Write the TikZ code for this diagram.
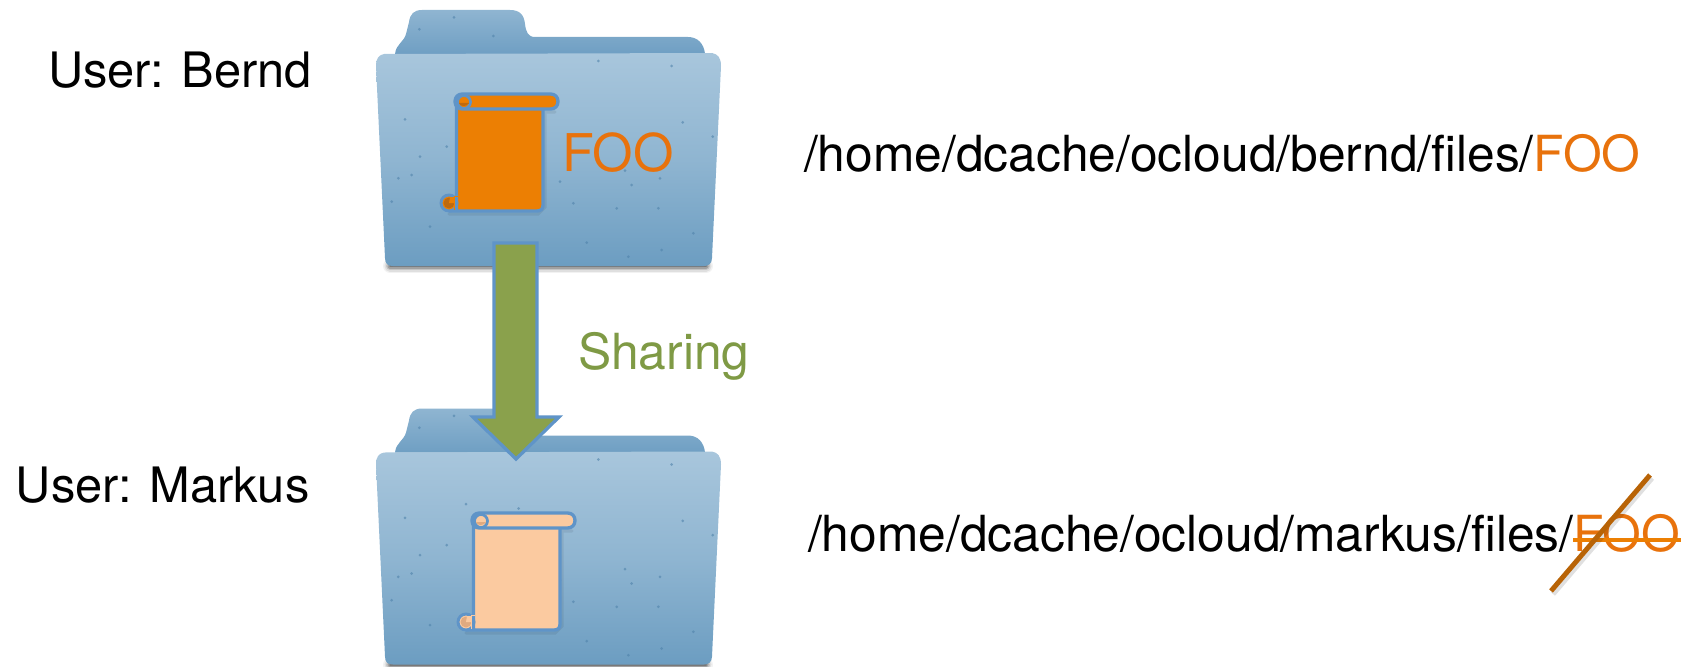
\documentclass[tikz,border=0pt]{standalone}
\usepackage{fontspec}
\setmainfont{TeX Gyre Heros}
\definecolor{fbgl}{HTML}{A8C6DC}
\definecolor{fbgm}{HTML}{8FB5D1}
\definecolor{fbgd}{HTML}{6C9DC1}
\definecolor{tabd}{HTML}{6F9FC3}
\definecolor{speck}{HTML}{4F82AA}
\definecolor{edge}{HTML}{5F94C8}
\definecolor{orng}{HTML}{EC7F03}
\definecolor{orngt}{HTML}{E8720C}
\definecolor{orngl}{HTML}{FBCAA0}
\definecolor{orngc}{HTML}{BE6A10}
\definecolor{orngcl}{HTML}{E0AA80}
\definecolor{grn}{HTML}{8AA14C}
\definecolor{grnt}{HTML}{7F9A45}
\definecolor{slash}{HTML}{B86306}
\tikzset{
  x=0.75pt,y=-0.75pt,
  lbl/.style={anchor=base west,inner sep=0pt,outer sep=0pt,font=\fontsize{37.3pt}{42pt}\selectfont,text=black},
  userlbl/.style={lbl,font=\fontsize{36.6pt}{42pt}\selectfont},
  foolbl/.style={lbl,text=orngt,font=\fontsize{39pt}{44pt}\selectfont},
  scrolledge/.style={draw=edge,line width=2.5pt,line join=round},
}
\newcommand{\folderart}[1]{%
 \begin{scope}[yshift=#1*-0.75pt]
  % shadow
  \foreach \w/\o in {14/.05,11/.08,8/.12,5/.18,2/.25}{
    \draw[line width=\w*0.75pt,black,opacity=\o,line cap=round] (390,266) -- (706,266);
  }
  % tab and back
  \path[top color=fbgm,bottom color=tabd]
    (395,54) .. controls (396,44) and (404,42) .. (406,34)
    -- (409,22) .. controls (410,14) and (414,10) .. (422,10)
    -- (510,10) .. controls (520,10) and (524,15) .. (525,24)
    .. controls (526,32) and (528,37) .. (535,37)
    -- (688,37) .. controls (698,37) and (704,44) .. (705,54) -- cycle;
  % body
  \path[top color=fbgl,bottom color=fbgd,middle color=fbgm]
    (384,54) -- (712,53) .. controls (718,54) and (721,58) .. (721,66)
    -- (712,258) .. controls (712,264) and (708,266) .. (704,266)
    -- (393,266) .. controls (388,266) and (385,264) .. (385,258)
    -- (376,66) .. controls (376,58) and (379,55) .. (384,54) -- cycle;
  \foreach \a/\b in {178/88,400/108,282/52,715/183,935/198,968/367,1058/410,600/545,155/525,95/605,680/728,805/770,895/625,770/625,815/555,210/680,318/317,476/330,135/358,180/470,115/535,260/440,795/512,900/535,1000/700,640/610,905/750}{
    \fill[speck,opacity=.6] ({360+\a/3},{\b/3}) circle (1.5);
  }
 \end{scope}}
\newcommand{\scrollart}[4]{%
 \begin{scope}[shift={(#1,#2)}]
  % soft shadow
  \draw[black,opacity=.07,line width=2.5pt,line cap=round] (-6,120) -- (83,120) -- (90,113) -- (90,18) -- (100,18);
  % sheet
  \path[scrolledge,fill=#3]
    (-6,117) -- (82,117) .. controls (86,117) and (88,115) .. (88,111)
    -- (88,10) -- (1.5,10) -- (1.5,117) -- cycle;
  % top roll
  \path[scrolledge,fill=#3]
    (7.5,0) -- (95.5,0) .. controls (100,0) and (103,3) .. (103,7.5)
    .. controls (103,12) and (100,15) .. (95.5,15)
    -- (7.5,15) .. controls (3,15) and (0,12) .. (0,7.5)
    .. controls (0,3) and (3,0) .. (7.5,0) -- cycle;
  % bottom curl
  \path[draw=edge,line width=2.2pt,fill=#3] (-6,109) circle (8);
  \path[fill=#4] (-6,109) circle (5.5);
  \path[fill=#3] (-6,109) -- (0,109) -- (0,103) -- (-5,103) -- cycle;
  \path[fill=#3] (-1,102) rectangle (3,116);
  \draw[edge,line width=2.2pt] (1.5,117) -- (1.5,103);
  % top curl
  \path[draw=edge,line width=2pt,fill=#3] (9,8) circle (6.5);
  \path[fill=#4] (4,9) .. controls (5,13) and (12,13) .. (14,9) -- cycle;
 \end{scope}}
\begin{document}
\begin{tikzpicture}
\useasboundingbox (0,0) rectangle (1685,667);
\folderart{0}
\folderart{398.5}
\scrollart{455}{94}{orng}{orngc}
\scrollart{472}{513}{orngl}{orngcl}
% block arrow
\path[draw=edge,fill=grn,line width=2.5pt,line join=miter]
  (494,243) -- (537,243) -- (537,417) -- (559,417) -- (516,459) -- (473,417) -- (494,417) -- cycle;
% texts
\node[userlbl] (bernd) at (48,88) {User: Bernd};
\node[userlbl] (markus) at (16,502) {User: Markus};
\node[foolbl] (foo) at (562,171) {FOO};
\node[lbl,text=grnt] (sharing) at (578,369) {Sharing};
\node[lbl] (p1) at (804,171) {/home/dcache/ocloud/bernd/files/\textcolor{orngt}{FOO}};
\node[lbl] (p2) at (808,551) {/home/dcache/ocloud/markus/files/\textcolor{orngt}{FOO}};
% strike-through and slash
\coordinate (sa) at (1573,540);
\coordinate (sb) at (1681,540);
\draw[orng,line width=2.4pt] (sa) -- (sb);
\coordinate (xa) at (1551,591);
\coordinate (xb) at (1650,475);
\draw[black,opacity=.12,line width=4pt] (1553,594) -- (1652,478);
\draw[slash,line width=3.7pt] (xa) -- (xb);
\end{tikzpicture}
\end{document}
